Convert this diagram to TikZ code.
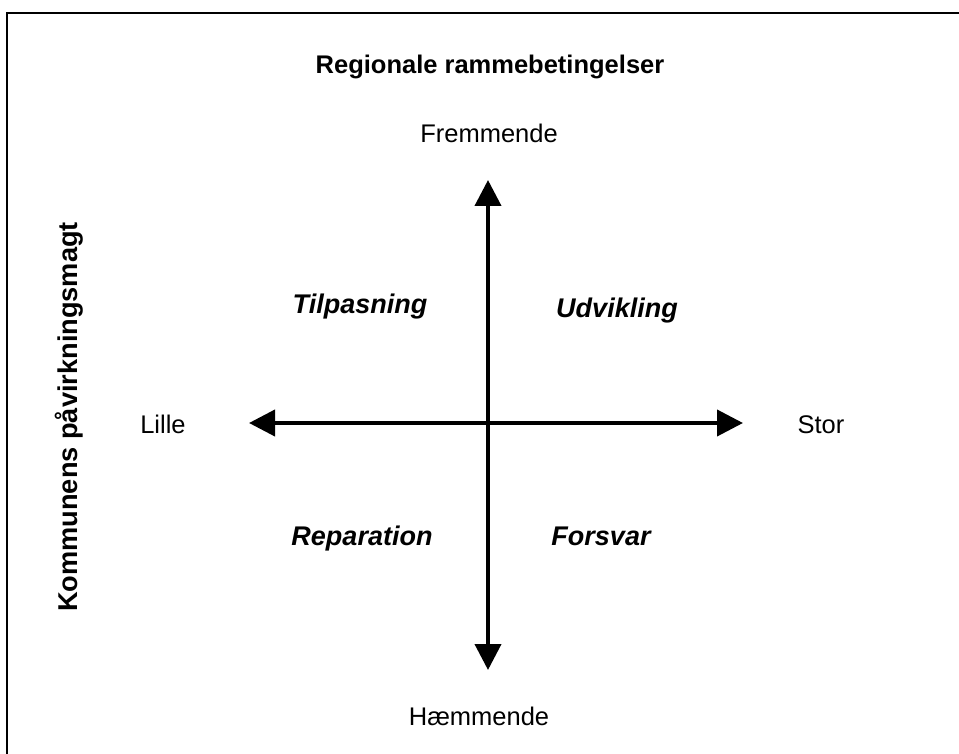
\documentclass[tikz,border=0pt]{standalone}
\usepackage{fontspec}
\setmainfont{Liberation Sans}
\usetikzlibrary{arrows.meta}
\begin{document}
\begin{tikzpicture}[x=0.5pt,y=-0.5pt,
  lbl/.style={anchor=base,inner sep=0pt,font=\fontsize{12.75}{15}\selectfont},
  quad/.style={anchor=base,inner sep=0pt,font=\fontsize{13.5}{16}\selectfont\bfseries\itshape},
  ttl/.style={anchor=base,inner sep=0pt,font=\fontsize{12.75}{15}\selectfont\bfseries},
  axis/.style={line width=2pt,{Triangle[length=13pt,width=13pt]}-{Triangle[length=13pt,width=13pt]}}]
\useasboundingbox (0,0) rectangle (959,754);
\clip (0,0) rectangle (959,754);
\draw[line width=1pt] (7,800) -- (7,13) -- (1000,13);

\node[ttl] (title) at (490,74) {Regionale rammebetingelser};
\node[ttl,rotate=90,font=\fontsize{13.6}{16}\selectfont\bfseries] (side) at (77,417) {Kommunens påvirkningsmagt};

\node[lbl] (fremmende) at (489,143) {Fremmende};
\node[lbl] (haemmende) at (479,725) {Hæmmende};
\node[lbl] (lille) at (163,433) {Lille};
\node[lbl] (stor) at (821,433) {Stor};

\node[quad] (tilpasning) at (360,314) {Tilpasning};
\node[quad] (udvikling) at (617,318) {Udvikling};
\node[quad] (reparation) at (362,545) {Reparation};
\node[quad] (forsvar) at (601,545) {Forsvar};

\coordinate (top) at (488,180);
\coordinate (bottom) at (488,670);
\coordinate (left) at (249,423);
\coordinate (right) at (743,423);
\draw[axis] (top) -- (bottom);
\draw[axis] (left) -- (right);
\end{tikzpicture}
\end{document}
